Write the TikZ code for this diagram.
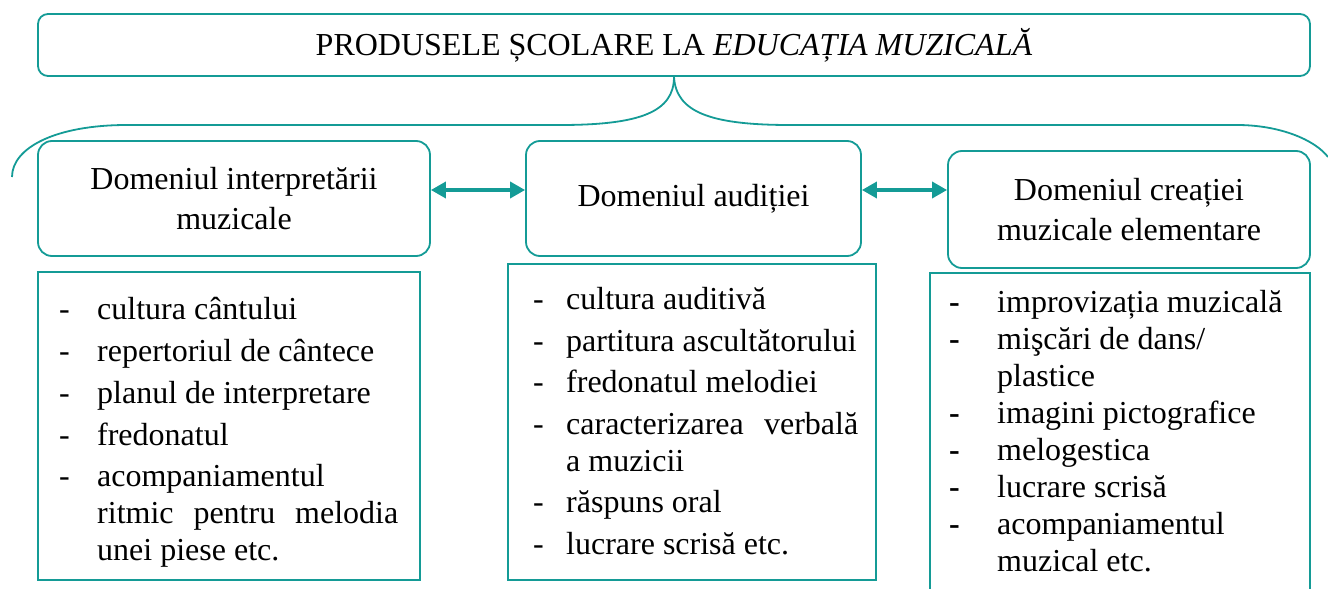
\documentclass[tikz,border=0pt]{standalone}
\usepackage{fontspec}
\setmainfont{Liberation Serif}
\usepackage{tikz}
\usetikzlibrary{arrows.meta}
\definecolor{tealline}{RGB}{20,155,150}

\newlength{\dashind}
\newcommand{\dashmark}{-}
\newcommand{\itm}[1]{\par\hangindent=\dashind\hangafter=1\noindent\strut\makebox[\dashind][l]{\dashmark}#1}
\newcommand{\brk}{\hfil\break}

\begin{document}
\begin{tikzpicture}[x=1pt,y=-1pt]
  \useasboundingbox (0,0) rectangle (1328,589);

  \tikzset{teal box/.style={draw=tealline, line width=1.8pt, rounded corners=14pt, align=center, font=\fontsize{32}{40}\selectfont},
           list frame/.style={draw=tealline, line width=1.8pt},
           list text/.style={anchor=north west, inner sep=0pt, text width=#1, align=justify, font=\fontsize{32}{37}\selectfont},
           brace line/.style={draw=tealline, line width=1.8pt, fill=none},
           link/.style={{Triangle[length=15pt,width=16pt]}-{Triangle[length=15pt,width=16pt]}, tealline, line width=3.5pt}}

  \node[teal box, rounded corners=10pt, minimum width=1272pt, minimum height=62pt] (title) at (674,45) {PRODUSELE ȘCOLARE LA \textit{EDUCAȚIA MUZICALĂ}};

  \node[teal box, minimum width=392pt, minimum height=115pt] (interp) at (234,198.5) {Domeniul interpretării\\muzicale};
  \node[teal box, minimum width=335pt, minimum height=115pt] (audit) at (693.5,198.5) {Domeniul audiției};
  \node[teal box, minimum width=362pt, minimum height=117pt] (creat) at (1129,209.5) {Domeniul creației\\muzicale elementare};

  \node[list frame, minimum width=382pt, minimum height=308pt] (frameA) at (229,426) {};
  \node[list frame, minimum width=368pt, minimum height=316pt] (frameB) at (692,422) {};
  \node[list frame, minimum width=380pt, minimum height=322pt] (frameC) at (1120,434) {};

  \node[list text=339pt] (itemsA) at (59,278) {\setlength{\dashind}{38pt}\setlength{\parskip}{4.75pt}\hyphenpenalty=10000
    \itm{cultura cântului}
    \itm{repertoriul de cântece}
    \itm{planul de interpretare}
    \itm{fredonatul}
    \itm{acompaniamentul\brk ritmic pentru melodia\linebreak unei piese etc.}\par};
  \node[list text=325pt] (itemsB) at (533,268) {\setlength{\dashind}{33pt}\setlength{\parskip}{4.5pt}\hyphenpenalty=10000
    \itm{cultura auditivă}
    \itm{partitura ascultătorului}
    \itm{fredonatul melodiei}
    \itm{caracterizarea verbală\linebreak a muzicii}
    \itm{răspuns oral}
    \itm{lucrare scrisă etc.}\par};
  \node[list text=345pt] (itemsC) at (949,275.5) {\setlength{\dashind}{48pt}\hyphenpenalty=10000\renewcommand{\dashmark}{\textbf{-}}
    \itm{improvizația muzicală}
    \itm{mişcări de dans/\brk plastice}
    \itm{imagini pictografice}
    \itm{melogestica}
    \itm{lucrare scrisă}
    \itm{acompaniamentul\brk muzical etc.}\par};

  \draw[brace line] (title.south) .. controls (674,112) and (640,125) .. (560,125) -- (127,125) .. controls (55,125) and (12,148) .. (12,177);
  \draw[brace line] (title.south) .. controls (676,112) and (710,125) .. (790,125) -- (1237,125) .. controls (1280,125) and (1315,140) .. (1328,157);

  \draw[link] ([yshift=8.5pt]interp.east) -- ([yshift=8.5pt]audit.west);
  \draw[link] ([yshift=8.5pt]audit.east) -- ([yshift=8.5pt]audit.east -| creat.west);
\end{tikzpicture}
\end{document}
